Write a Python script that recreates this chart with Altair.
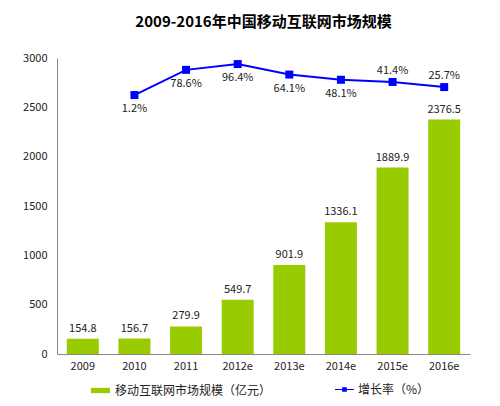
import altair as alt
import pandas as pd

years = ["2009", "2010", "2011", "2012e", "2013e", "2014e", "2015e", "2016e"]
market = [154.8, 156.7, 279.9, 549.7, 901.9, 1336.1, 1889.9, 2376.5]
growth_years = ["2010", "2011", "2012e", "2013e", "2014e", "2015e", "2016e"]
growth = [1.2, 78.6, 96.4, 64.1, 48.1, 41.4, 25.7]
above_years = ["2015e", "2016e"]

bar_name = "移动互联网市场规模（亿元）"
line_name = "增长率（%）"

bars_df = pd.DataFrame({"year": years, "value": market, "series": bar_name})
line_df = pd.DataFrame({"year": growth_years, "rate": growth, "series": line_name})
line_df["label"] = [f"{v}%" for v in growth]

FONT = "Noto Sans CJK SC"
x = alt.X("year:N", sort=years, title=None,
          axis=alt.Axis(labelAngle=0, ticks=False, domainColor="#888888",
                        labelFontSize=11, labelColor="#222222", labelPadding=6,
                        labelFont=FONT),
          scale=alt.Scale(paddingInner=0.38, paddingOuter=0.19))

yl = alt.Y("value:Q", title=None, scale=alt.Scale(domain=[0, 3000]),
           axis=alt.Axis(values=[0, 500, 1000, 1500, 2000, 2500, 3000], ticks=False, format="d",
                         grid=False, domainColor="#888888", labelFontSize=11,
                         labelColor="#222222", labelPadding=10, labelFont=FONT))

bars = alt.Chart(bars_df).mark_bar(color="#99cc00").encode(
    x=x,
    y=yl,
    color=alt.Color("series:N", scale=alt.Scale(domain=[bar_name], range=["#99cc00"]),
                    legend=alt.Legend(title=None, orient="none", legendX=33, legendY=322,
                                      symbolType="M-1,-0.28H1V0.28H-1Z", symbolSize=360,
                                      labelFontSize=12, labelFont=FONT, labelColor="#222222")),
)
bar_text = alt.Chart(bars_df).mark_text(dy=-10, fontSize=11, font=FONT, color="#222222").encode(
    x=alt.X("year:N", sort=years), y=yl, text=alt.Text("value:Q", format=".1f"))
left = alt.layer(bars, bar_text)

yr = alt.Y("rate:Q", scale=alt.Scale(domain=[-794, 115]), axis=None)
line = alt.Chart(line_df).mark_line(color="#0000ff", strokeWidth=2).encode(
    x=alt.X("year:N", sort=years), y=yr)
pts = alt.Chart(line_df).mark_point(shape="square", filled=True, size=64, opacity=1).encode(
    x=alt.X("year:N", sort=years), y=yr,
    color=alt.Color("series:N", scale=alt.Scale(domain=[line_name], range=["#0000ff"]),
                    legend=alt.Legend(title=None, orient="none", legendX=278, legendY=322,
                                      symbolType="M-1,-0.06H1V0.06H-1Z M-0.25,-0.25H0.25V0.25H-0.25Z",
                                      symbolSize=360, symbolStrokeWidth=0,
                                      labelFontSize=12, labelFont=FONT, labelColor="#222222")))
below = alt.Chart(line_df).transform_filter(
    ~alt.FieldOneOfPredicate(field="year", oneOf=above_years)
).mark_text(dy=14, fontSize=11, font=FONT, color="#222222").encode(
    x=alt.X("year:N", sort=years), y=yr, text="label:N")
above = alt.Chart(line_df).transform_filter(
    alt.FieldOneOfPredicate(field="year", oneOf=above_years)
).mark_text(dy=-11, fontSize=11, font=FONT, color="#222222").encode(
    x=alt.X("year:N", sort=years), y=yr, text="label:N")

right = alt.layer(line, pts, below, above)
chart = alt.layer(left, right).resolve_scale(y="independent", color="independent").properties(
    width=413, height=296,
    padding={"left": 49, "top": 50, "right": 22, "bottom": 44},
    autosize=alt.AutoSizeParams(type="none"),
    title=alt.TitleParams("2009-2016年中国移动互联网市场规模", fontSize=15, font=FONT,
                          fontWeight="bold", color="#000000", anchor="middle", offset=22),
).configure_view(stroke=None)

chart.save("out.html", embed_options={"renderer": "svg", "actions": False})
